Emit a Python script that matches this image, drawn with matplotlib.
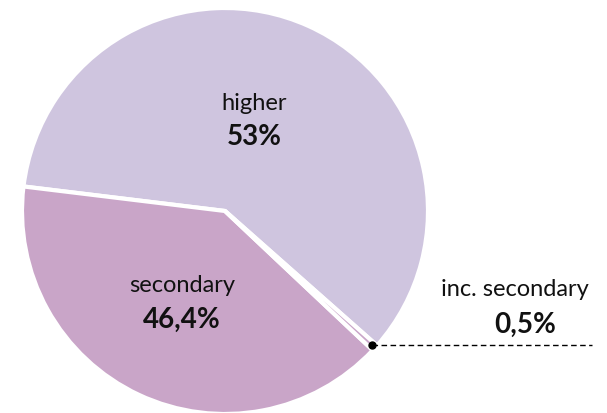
import numpy as np
import matplotlib
matplotlib.use("Agg")
import matplotlib.pyplot as plt

# shares as drawn in the picture (labels carry the published numbers)
categories = ["higher", "secondary", "inc. secondary"]
shares = [59.6, 39.9, 0.5]
value_labels = ["53%", "46,4%", "0,5%"]
colors = ["#cfc5df", "#c9a5c8", "#c9a5c8"]

W, H = 607, 414
fig = plt.figure(figsize=(W / 100, H / 100), dpi=100)
ax = fig.add_axes([0, 0, 1, 1])

cx, cy, r = 225, H - 212, 203
wedges, _ = ax.pie(shares, colors=colors, startangle=-41.5, counterclock=True,
                   center=(cx, cy), radius=r, frame=True,
                   wedgeprops=dict(edgecolor="white", linewidth=3))
ax.set_xlim(0, W)
ax.set_ylim(0, H)
ax.set_aspect("equal")
ax.axis("off")

font = "Lato"
tc = "#111111"
ax.text(254, H - 104, categories[0], ha="center", va="center", fontsize=17, family=font, color=tc)
ax.text(254, H - 137, value_labels[0], ha="center", va="center", fontsize=20, weight="bold", family=font, color=tc)
ax.text(182, H - 286, categories[1], ha="center", va="center", fontsize=17, family=font, color=tc)
ax.text(182, H - 320, value_labels[1], ha="center", va="center", fontsize=20, weight="bold", family=font, color=tc)
ax.text(515, H - 289, categories[2], ha="center", va="center", fontsize=17, family=font, color=tc)
ax.text(525, H - 325, value_labels[2], ha="center", va="center", fontsize=20, weight="bold", family=font, color=tc)

# leader for the tiny slice
w = wedges[2]
ang = np.deg2rad((w.theta1 + w.theta2) / 2)
px, py = cx + (r - 4) * np.cos(ang), cy + (r - 4) * np.sin(ang)
ax.plot([px, 592], [py, py], color="black", lw=1, ls=(0, (4, 2.5)))
ax.plot(px, py, "o", color="black", ms=5)

fig.savefig("out.png", dpi=100)
